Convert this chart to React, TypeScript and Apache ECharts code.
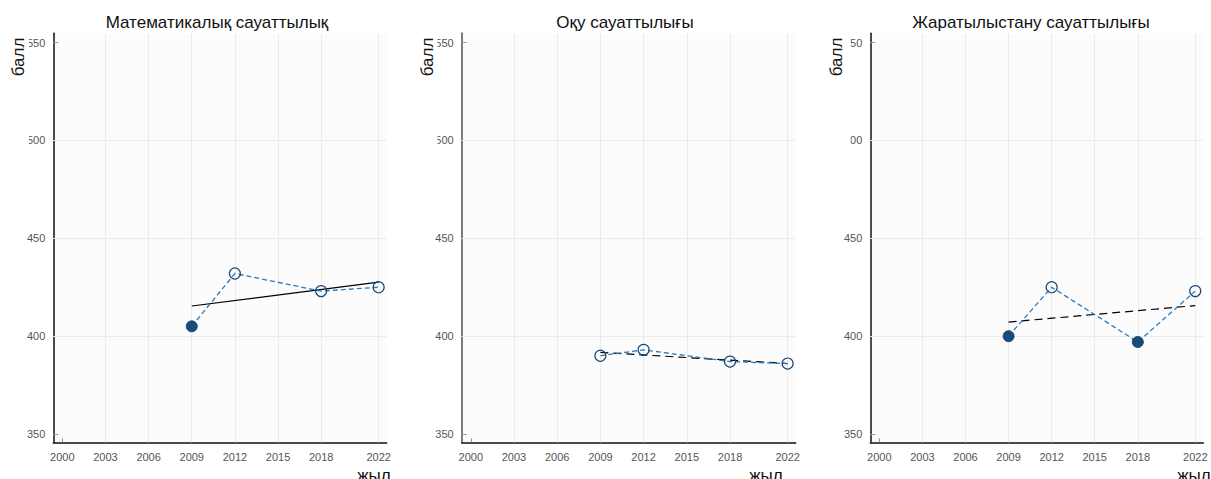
import React, { useEffect, useRef } from "react";
import * as echarts from "echarts";

// ---- data ----
const panelTitles = ["Математикалық сауаттылық", "Оқу сауаттылығы", "Жаратылыстану сауаттылығы"];
const years = [2009, 2012, 2018, 2022];
const mathScores = [405, 432, 423, 425];
const readingScores = [390, 393, 387, 386];
const scienceScores = [400, 425, 397, 423];
const mathFilled = [true, false, false, false];
const readingFilled = [false, false, false, false];
const scienceFilled = [true, false, true, false];
const trendYears = [2009, 2022];
const mathTrend = [415.4, 427.6];
const readingTrend = [391.7, 386.0];
const scienceTrend = [407.2, 415.6];
const xTicks = [2000, 2003, 2006, 2009, 2012, 2015, 2018, 2022];
const yTicks = [350, 400, 450, 500, 550];
const xGridValues = [2003, 2006, 2009, 2012, 2015, 2018, 2022];
const yGridValues = [400, 450, 500];
const yAxisName = "балл";
const xAxisName = "жыл";

const scores = [mathScores, readingScores, scienceScores];
const filled = [mathFilled, readingFilled, scienceFilled];
const trends = [mathTrend, readingTrend, scienceTrend];

// ---- layout / style ----
const FONT = "'Liberation Sans', Arial, sans-serif";
const gridLefts = [53.3, 461.7, 870.3];
const gridWidths = [333.4, 334, 333];
const gridTop = 33.3;
const gridHeight = 409;
const titleX = [217, 625, 1031];
const yNameX = [18.5, 427, 836];
const xNameX = [374, 766, 1194];
const masks = [
  [0, 29],
  [395, 437.5],
  [805, 850.5],
];
const yAxisLineColors = ["#111", "#7a7a7a", "#111"];
const yAxisLineWidths = [1.5, 2, 1.5];
const trendTypes: any[] = ["solid", [8, 5], [8, 5]];

const BLUE = "#2a7bbf";
const NAVY = "#1a4a7a";

export default function App() {
  const ref = useRef<HTMLDivElement>(null);
  useEffect(() => {
    if (!ref.current) return;
    const chart = echarts.init(ref.current, undefined, { renderer: "svg" });

    const grid: any[] = [];
    const xAxis: any[] = [];
    const yAxis: any[] = [];
    const series: any[] = [];
    const graphic: any[] = [];

    for (let i = 0; i < 3; i++) {
      grid.push({
        left: gridLefts[i],
        top: gridTop,
        width: gridWidths[i],
        height: gridHeight,
        show: true,
        backgroundColor: "#fcfcfc",
        borderWidth: 0,
      });
      xAxis.push({
        type: "value",
        gridIndex: i,
        min: 1999.37,
        max: 2022.56,
        axisLine: { show: true, onZero: false, lineStyle: { color: "#111", width: 1.5 } },
        axisTick: {
          show: true,
          inside: true,
          length: 4,
          customValues: xTicks,
          lineStyle: { color: "#999", width: 1 },
        },
        axisLabel: {
          show: true,
          customValues: xTicks,
          fontSize: 11,
          color: "#555",
          fontFamily: FONT,
          margin: 9,
          formatter: (v: number) => String(v),
        },
        splitLine: { show: false },
      });
      yAxis.push({
        type: "value",
        gridIndex: i,
        min: 345.77,
        max: 554.7,
        axisLine: {
          show: true,
          onZero: false,
          lineStyle: { color: yAxisLineColors[i], width: yAxisLineWidths[i] },
        },
        axisTick: {
          show: true,
          inside: true,
          length: 5,
          customValues: yTicks,
          lineStyle: { color: "#999", width: 1 },
        },
        axisLabel: {
          show: true,
          customValues: yTicks,
          fontSize: 11,
          color: "#555",
          fontFamily: FONT,
          margin: 8,
          formatter: (v: number) => String(v),
        },
        splitLine: { show: false },
      });

      // trend line (also carries the grid lines)
      series.push({
        type: "line",
        xAxisIndex: i,
        yAxisIndex: i,
        data: trendYears.map((y, k) => [y, trends[i][k]]),
        symbol: "none",
        lineStyle: { color: "#000", width: 1.2, type: trendTypes[i] },
        z: 2,
        silent: true,
        markLine: {
          silent: true,
          symbol: ["none", "none"],
          label: { show: false },
          lineStyle: { color: "#ebebeb", width: 1, type: "solid" },
          z: 1,
          data: [
            ...xGridValues.map((v) => ({ xAxis: v })),
            ...yGridValues.map((v) => ({ yAxis: v })),
          ],
        },
      });

      // observed scores
      series.push({
        type: "line",
        xAxisIndex: i,
        yAxisIndex: i,
        data: years.map((y, k) => ({
          value: [y, scores[i][k]],
          itemStyle: filled[i][k]
            ? { color: NAVY, borderColor: NAVY, borderWidth: 1 }
            : { color: "rgba(255,255,255,0)", borderColor: NAVY, borderWidth: 1.2 },
        })),
        symbol: "circle",
        symbolSize: 11,
        showAllSymbol: true,
        lineStyle: { color: BLUE, width: 1.3, type: [5, 3] },
        z: 3,
      });

      // masks (clipped tick labels in the reference)
      graphic.push({
        type: "rect",
        shape: { x: masks[i][0], y: 30, width: masks[i][1] - masks[i][0], height: 120 },
        style: { fill: "#ffffff" },
        silent: true,
        z: 10,
      });

      graphic.push({
        type: "text",
        x: titleX[i],
        y: 22.5,
        z: 11,
        style: {
          text: panelTitles[i],
          fontSize: 17,
          fontFamily: FONT,
          fill: "#111",
          align: "center",
          verticalAlign: "middle",
        },
      });
      graphic.push({
        type: "text",
        x: yNameX[i],
        y: 57,
        rotation: Math.PI / 2,
        z: 11,
        style: {
          text: yAxisName,
          fontSize: 17,
          fontFamily: FONT,
          fill: "#111",
          align: "center",
          verticalAlign: "middle",
        },
      });
      graphic.push({
        type: "text",
        x: xNameX[i],
        y: 475,
        z: 11,
        style: {
          text: xAxisName,
          fontSize: 17,
          fontFamily: FONT,
          fill: "#111",
          align: "center",
          verticalAlign: "middle",
        },
      });
    }

    chart.setOption({
      animation: false,
      backgroundColor: "#ffffff",
      grid,
      xAxis,
      yAxis,
      series,
      graphic: { elements: graphic },
    });

    return () => chart.dispose();
  }, []);

  return (
    <div
      ref={ref}
      style={{ position: "absolute", left: 0, top: 0, width: 1211, height: 479 }}
    />
  );
}
